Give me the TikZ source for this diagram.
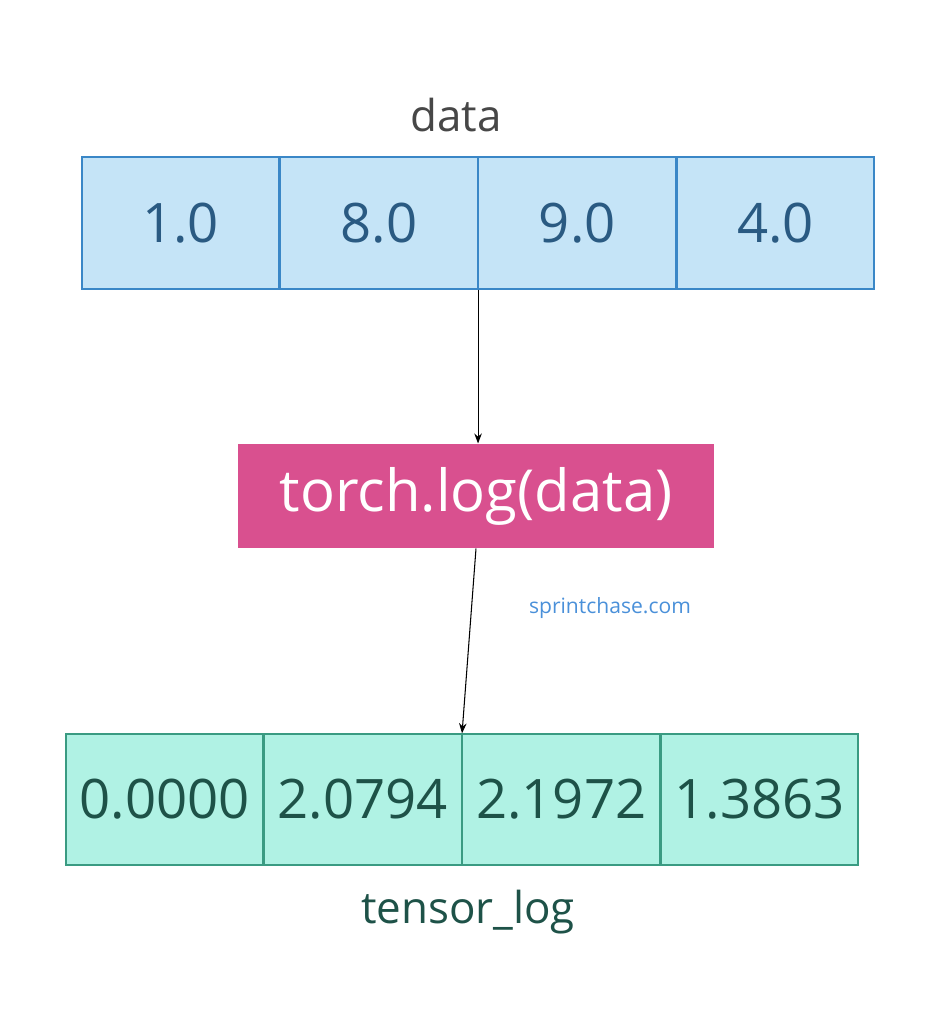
\documentclass[tikz,border=0pt]{standalone}
\usepackage{fontspec}
\setmainfont{Open Sans}
\usetikzlibrary{arrows.meta,positioning}
\definecolor{topfill}{HTML}{C5E4F7}
\definecolor{topline}{HTML}{3A87C7}
\definecolor{toptext}{HTML}{2A5A82}
\definecolor{botfill}{HTML}{B0F2E4}
\definecolor{botline}{HTML}{3A9B82}
\definecolor{bottext}{HTML}{1E5248}
\definecolor{opfill}{HTML}{D9508F}
\definecolor{markblue}{HTML}{4A90D9}
\begin{document}
\begin{tikzpicture}[
        x = 0.02cm, y = -0.02cm,
        > = Stealth, % arrow head style
        semithick
    ]

    \tikzset{
        topcell/.style = {draw = topline, thick, fill = topfill, text = toptext,
            minimum width = 3.94cm, minimum height = 2.64cm, inner sep = 0pt,
            font = \fontsize{31}{36}\selectfont},
        botcell/.style = {draw = botline, thick, fill = botfill, text = bottext,
            minimum width = 3.94cm, minimum height = 2.62cm, inner sep = 0pt,
            font = \fontsize{31}{36}\selectfont},
        opbox/.style = {fill = opfill, text = white, minimum width = 9.52cm,
            minimum height = 2.08cm, font = \fontsize{33}{40}\selectfont}
    }

    \useasboundingbox (0,0) rectangle (937,1024);

    \node[topcell] (d1) at (180.5,223) {1.0};
    \node[topcell] (d2) [right = 0pt of d1] {8.0};
    \node[topcell] (d3) [right = 0pt of d2] {9.0};
    \node[topcell] (d4) [right = 0pt of d3] {4.0};
    \node[text = black!72, font = \fontsize{25}{30}\selectfont] (dlabel) at (456,115) {data};

    \node[opbox] (op) at (476,496) {torch.log(data)};

    \node[botcell] (t1) at (164.5,799.5) {0.0000};
    \node[botcell] (t2) [right = 0pt of t1] {2.0794};
    \node[botcell] (t3) [right = 0pt of t2] {2.1972};
    \node[botcell] (t4) [right = 0pt of t3] {1.3863};
    \node[text = bottext, font = \fontsize{25}{30}\selectfont] (tlabel) at (468,912) {tensor\_log};

    \node[text = markblue, font = \fontsize{12}{14}\selectfont] (mark) at (610,608) {sprintchase.com};

    \draw[->] (d2.south east) -- (op.north -| d2.south east);
    \draw[->] (op.south) -- (t2.north east);
\end{tikzpicture}
\end{document}
